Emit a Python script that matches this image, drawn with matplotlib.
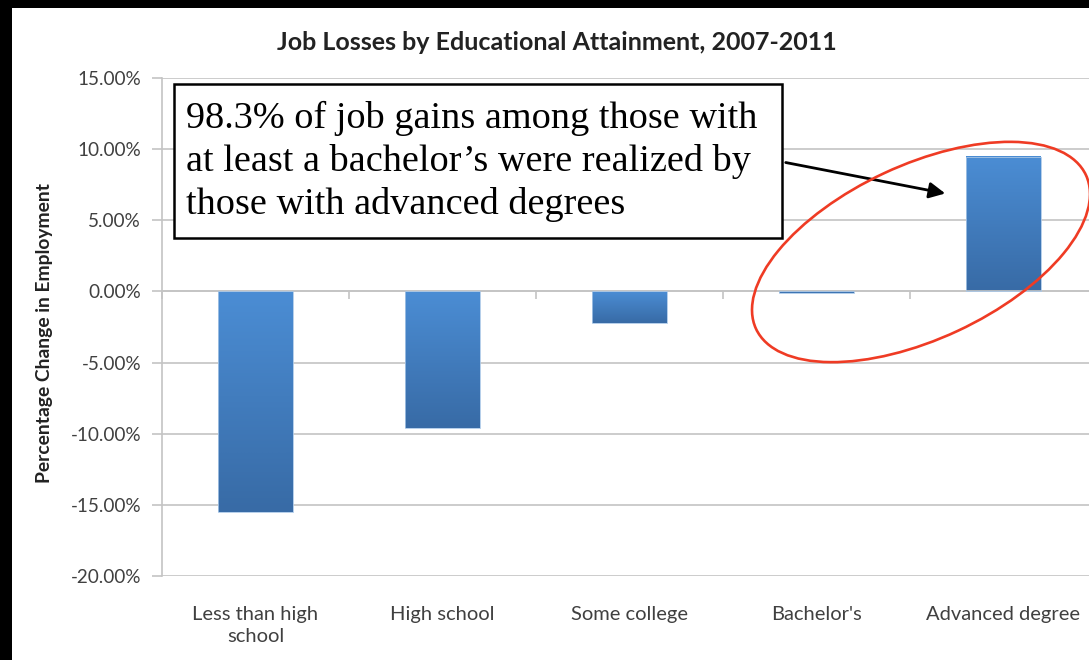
import matplotlib.pyplot as plt
import numpy as np
from matplotlib.colors import LinearSegmentedColormap
from matplotlib.patches import Rectangle, Ellipse, FancyArrowPatch

categories = ['Less than high\nschool', 'High school', 'Some college',
              "Bachelor's", 'Advanced degree']
pct_change = [-15.5, -9.6, -2.2, -0.1, 9.45]
y_ticks = [-20, -15, -10, -5, 0, 5, 10, 15]
note = ("98.3% of job gains among those with\n"
        "at least a bachelor\u2019s were realized by\n"
        "those with advanced degrees")

W, H = 1089, 660
sans = ['Lato', 'DejaVu Sans']
grey = '#c4c4c4'
txt = '#404040'


def fx(px):
    return px / W


def fy(py):
    return 1 - py / H


fig = plt.figure(figsize=(W / 100, H / 100), dpi=100, facecolor='black')
# white chart sheet on the black slide
fig.add_artist(Rectangle((fx(12), 0), 1, fy(8), transform=fig.transFigure,
                         facecolor='white', edgecolor='none', zorder=0))

ax = fig.add_axes([fx(162), fy(576), fx(1097 - 162), (576 - 78) / H])
ax.set_facecolor('none')

# vertical gradient for the bars: darker at the bottom, lighter on top
bar_cmap = LinearSegmentedColormap.from_list('bar', ['#386ba6', '#4b8dd4'])
grad = np.linspace(0, 1, 64).reshape(-1, 1)
width = 0.40
xs = np.arange(len(categories))
for x, v in zip(xs, pct_change):
    lo, hi = min(0, v), max(0, v)
    ax.imshow(grad, extent=[x - width / 2, x + width / 2, lo, hi],
              cmap=bar_cmap, aspect='auto', origin='lower', zorder=2,
              interpolation='bicubic')
ax.bar(xs, pct_change, width=width, facecolor='none', edgecolor='#a8c6e6',
       linewidth=0.6, zorder=3)

ax.set_xlim(-0.5, 4.5)
ax.set_ylim(-20, 15)
ax.set_yticks(y_ticks)
ax.yaxis.set_major_formatter(lambda v, p: f'{v:.2f}%')
ax.grid(axis='y', color=grey, linewidth=1.2)
ax.set_axisbelow(True)
ax.tick_params(axis='y', length=7, width=1.2, color=grey, labelsize=13.6,
               labelcolor=txt, pad=8)
for lab in ax.get_yticklabels():
    lab.set_family(sans)

for side in ['top', 'right']:
    ax.spines[side].set_visible(False)
ax.spines['left'].set_color(grey)
ax.spines['left'].set_linewidth(1.2)
ax.spines['bottom'].set_position(('data', 0))
ax.spines['bottom'].set_color(grey)
ax.spines['bottom'].set_linewidth(1.2)
ax.set_xticks(np.arange(-0.5, 5, 1))
ax.set_xticklabels([])
ax.tick_params(axis='x', length=6, width=1.2, color=grey)

for x, name in zip(xs, categories):
    ax.text(x, -0.06, name, transform=ax.get_xaxis_transform(),
            ha='center', va='top', fontsize=14.5, color=txt, family=sans,
            linespacing=1.35)

fig.text(fx(557), fy(43), 'Job Losses by Educational Attainment, 2007-2011',
         ha='center', va='center', fontsize=18, fontweight='bold',
         color='#222222', family=sans)
fig.text(fx(45), fy(333), 'Percentage Change in Employment', rotation=90,
         ha='center', va='center', fontsize=13.9, fontweight='bold',
         color='#222222', family=sans)

# callout box with arrow and highlight ring
fig.add_artist(Rectangle((fx(174), fy(238)), fx(782 - 174), (238 - 84) / H,
                         transform=fig.transFigure, facecolor='white',
                         edgecolor='black', linewidth=1.8, zorder=5))
fig.text(fx(186), fy(101), note, ha='left', va='top', fontsize=27.5,
         family=['Liberation Serif', 'DejaVu Serif'], linespacing=1.3,
         zorder=6)
fig.add_artist(FancyArrowPatch((fx(783), fy(162)), (fx(948), fy(194)),
                               transform=fig.transFigure, arrowstyle='-|>',
                               mutation_scale=24, linewidth=2,
                               color='black', zorder=6))
fig.add_artist(Ellipse((9.21, (H - 252) / 100), 3.64, 1.74, angle=25,
                       transform=fig.dpi_scale_trans, facecolor='none',
                       edgecolor='#ef3b24', linewidth=1.9, zorder=6))

fig.savefig('out.png', dpi=100, facecolor='black')
